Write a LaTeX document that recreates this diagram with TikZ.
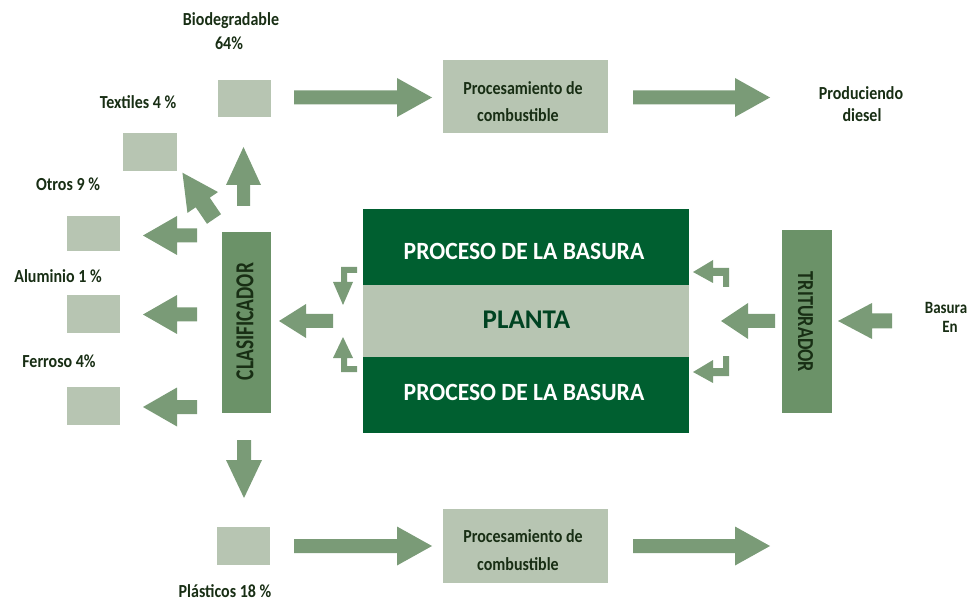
\documentclass[tikz,border=0pt]{standalone}
\usepackage{fontspec}
\setmainfont{Carlito}
\usepackage{graphicx}
\definecolor{dg}{HTML}{005F30}
\definecolor{lb}{HTML}{B7C5B2}
\definecolor{mb}{HTML}{6B9268}
\definecolor{ac}{HTML}{7A9B77}
\definecolor{tx}{HTML}{182E14}
% block arrow: x y angle length headlength shafthalf headhalf
\newcommand\barrow[7]{\fill[ac,shift={(#1,#2)},rotate=#3] (0,-#6) -- ({#4-#5},-#6) -- ({#4-#5},-#7) -- (#4,0) -- ({#4-#5},#7) -- ({#4-#5},#6) -- (0,#6) -- cycle;}
\tikzset{
  lbl/.style={font=\fontsize{16}{19}\selectfont\bfseries, text=tx, inner sep=0pt, anchor=base, yscale=1.15},
  plbl/.style={lbl, font=\fontsize{16}{19}\selectfont\bfseries},
  lbox/.style={fill=lb, draw=none, inner sep=0pt, minimum width=53pt, minimum height=37pt},
  pbox/.style={fill=lb, draw=none, inner sep=0pt, minimum width=165pt, minimum height=73pt},
  mbox/.style={fill=mb, draw=none, inner sep=0pt},
  band/.style={draw=none, inner sep=0pt, minimum width=326pt},
  big/.style={font=\fontsize{23.6}{28}\selectfont\bfseries, text=white, inner sep=0pt, anchor=base, yscale=1.05},
}
\begin{document}
\begin{tikzpicture}[x=1pt,y=-1pt]
\useasboundingbox (0,0) rectangle (978,604);
% central plant
\node[band, fill=dg, minimum height=76pt] (ptop) at (525.5,247) {};
\node[band, fill=lb, minimum height=72pt] (pmid) at (525.5,321) {};
\node[band, fill=dg, minimum height=76pt] (pbot) at (525.5,395) {};
\node[big] (t1) at (524,260) {PROCESO DE LA BASURA};
\node[font=\fontsize{27}{30}\selectfont\bfseries, text=dg!70!black, inner sep=0pt, anchor=base] (t2) at (526.5,329) {PLANTA};
\node[big] (t3) at (524,400) {PROCESO DE LA BASURA};
% side boxes
\node[mbox, minimum width=49pt, minimum height=181pt] (clas) at (246.5,322.5) {};
\node[rotate=90, text=tx, inner sep=0pt] (clast) at (245,321.5) {\resizebox{117pt}{17pt}{\bfseries CLASIFICADOR}};
\node[mbox, minimum width=50pt, minimum height=183pt] (trit) at (807,321.5) {};
\node[rotate=-90, text=tx, inner sep=0pt] (tritt) at (805.5,322) {\resizebox{100pt}{15pt}{\bfseries TRITURADOR}};
% small boxes
\node[lbox] (bio) at (244.5,98.5) {};
\node[lbox, minimum width=54pt, minimum height=38pt] (tex) at (150,152) {};
\node[lbox, minimum height=35pt] (otr) at (93.5,233.5) {};
\node[lbox, minimum height=38pt] (alu) at (93.5,314) {};
\node[lbox, minimum height=38pt] (fer) at (93.5,406) {};
\node[lbox, minimum height=38pt] (pla) at (243.5,546) {};
% processing boxes
\node[pbox] (proc1) at (525.5,96.5) {};
\node[pbox, minimum height=74pt] (proc2) at (525.5,546) {};
% labels
\node[lbl] (l1) at (231,26) {Biodegradable};
\node[lbl] (l1b) at (229,50) {64\%};
\node[lbl] (l2) at (138,109) {Textiles 4 \%};
\node[lbl] (l3) at (68,191) {Otros 9 \%};
\node[lbl] (l4) at (58,283) {Aluminio 1 \%};
\node[lbl] (l5) at (59,367) {Ferroso 4\%};
\node[lbl] (l6) at (225,597) {Plásticos 18 \%};
\node[plbl] (p1a) at (523,95) {Procesamiento de};
\node[plbl] (p1b) at (518,122) {combustible};
\node[plbl] (p2a) at (523,542) {Procesamiento de};
\node[plbl] (p2b) at (518,570) {combustible};
\node[lbl] (d1) at (861,100) {Produciendo};
\node[lbl] (d2) at (862,122) {diesel};
\node[lbl, font=\fontsize{15}{18}\selectfont\bfseries] (b1) at (946,313) {Basura};
\node[lbl, font=\fontsize{15}{18}\selectfont\bfseries] (b2) at (950,332) {En};
% block arrows
\barrow{294}{97.5}{0}{138}{35}{7}{19.5}
\barrow{633}{97.5}{0}{137}{35}{7}{19.5}
\barrow{294}{546}{0}{138}{35}{7}{19.5}
\barrow{633}{546}{0}{137}{35}{7}{19.5}
\barrow{243.5}{206}{90}{59}{38}{6.5}{17.5}
\barrow{214}{219}{124.3}{56}{36}{8.5}{18.5}
\barrow{197}{235.5}{180}{54}{34}{7}{19.5}
\barrow{197}{314.5}{180}{54}{34}{7}{19.5}
\barrow{197}{407}{180}{54}{34}{7}{19.5}
\barrow{333}{321}{180}{54}{27}{7}{17}
\barrow{244}{440}{-90}{58}{38}{7}{18}
\barrow{775}{321}{180}{54}{27}{7}{18}
\barrow{892}{321}{180}{54}{34}{7.5}{18}
% bent arrows, left
\fill[ac] (357,267) -- (341,267) -- (341,282) -- (333,282) -- (343,305) -- (353,282) -- (347,282) -- (347,273) -- (357,273) -- cycle;
\fill[ac] (357,372) -- (341,372) -- (341,358) -- (333,358) -- (343,337) -- (353,358) -- (347,358) -- (347,366) -- (357,366) -- cycle;
% bent arrows, right
\fill[ac] (693,272) -- (713,260) -- (713,268) -- (729,268) -- (729,287) -- (723,287) -- (723,276) -- (713,276) -- (713,283) -- cycle;
\fill[ac] (693,372) -- (713,360) -- (713,368) -- (723,368) -- (723,356) -- (729,356) -- (729,376) -- (713,376) -- (713,383) -- cycle;
\end{tikzpicture}
\end{document}
